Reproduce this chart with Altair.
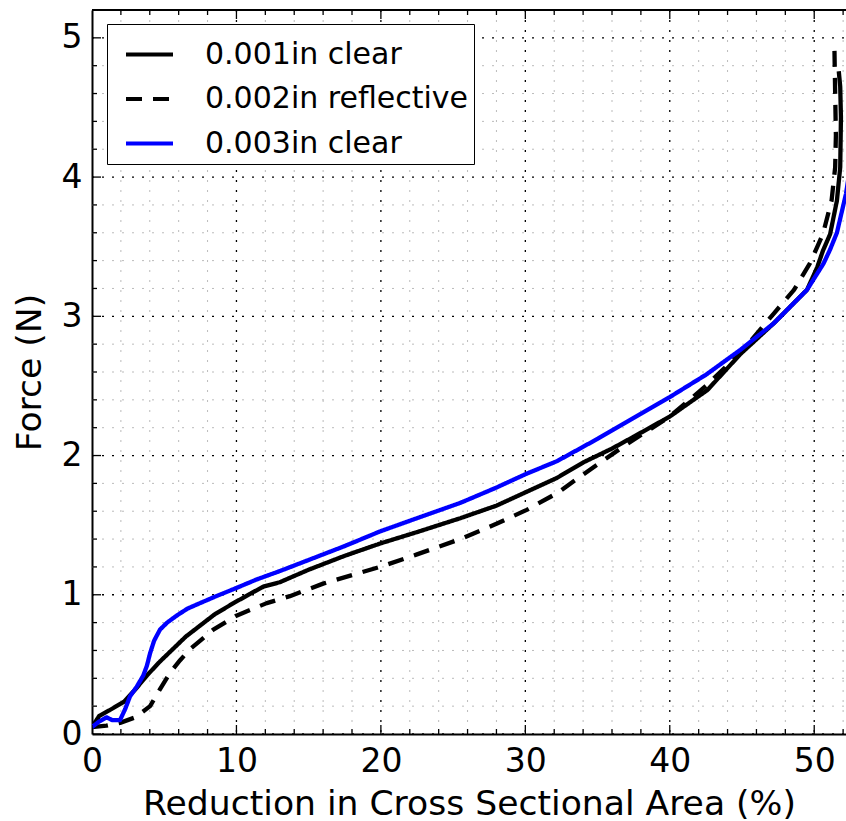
import altair as alt
import pandas as pd

# ---- data ----
series_names = ["0.001in clear", "0.002in reflective", "0.003in clear"]

black_x = [0, 0.5, 1.2, 2.2, 3.0, 3.8, 4.7, 5.6, 6.5, 7.5, 8.5, 9.8, 11.0, 11.9, 13.0,
           15.0, 17.5, 20.0, 22.5, 25.5, 28.0, 30.1, 32.2, 34.0, 36.0, 37.5, 40.0, 42.6,
           44.9, 47.2, 49.5, 50.2, 50.6, 51.1, 51.57, 51.8, 51.85, 51.8, 51.7]
black_y = [0.05, 0.13, 0.17, 0.23, 0.32, 0.42, 0.52, 0.61, 0.70, 0.78, 0.86, 0.94, 1.01,
           1.06, 1.09, 1.18, 1.28, 1.37, 1.45, 1.55, 1.64, 1.74, 1.84, 1.95, 2.05, 2.135,
           2.28, 2.47, 2.73, 2.95, 3.19, 3.35, 3.47, 3.59, 3.83, 4.07, 4.43, 4.65, 4.76]

dash_x = [0, 1.0, 1.94, 3.0, 4.02, 4.7, 5.4, 6.1, 6.79, 7.6, 8.4, 10.0, 12.1, 13.7, 16.0,
          19.94, 22.5, 25.5, 28.0, 30.1, 32.2, 34.5, 37.0, 40.0, 42.5, 45.0, 47.2, 48.6,
          49.7, 50.6, 51.2, 51.45, 51.5, 51.45, 51.4]
dash_y = [0.05, 0.06, 0.08, 0.12, 0.20, 0.32, 0.44, 0.53, 0.61, 0.68, 0.75, 0.85, 0.94,
          0.99, 1.08, 1.20, 1.29, 1.40, 1.51, 1.61, 1.73, 1.90, 2.08, 2.28, 2.50, 2.75,
          3.02, 3.19, 3.38, 3.59, 3.83, 4.07, 4.30, 4.60, 4.92]

blue_x = [0, 0.5, 1.0, 1.4, 1.94, 2.3, 2.63, 3.1, 3.55, 3.8, 4.02, 4.3, 4.71, 5.2, 5.86,
          6.6, 7.48, 8.6, 9.79, 11.4, 13.0, 15.0, 17.5, 19.94, 22.5, 25.5, 28.0, 30.1,
          32.2, 35.0, 37.5, 40.0, 42.5, 44.9, 47.2, 49.5, 50.65, 51.1, 51.57, 52.2, 52.6,
          53.0]
blue_y = [0.05, 0.09, 0.12, 0.10, 0.10, 0.18, 0.27, 0.34, 0.42, 0.49, 0.58, 0.67, 0.75,
          0.80, 0.85, 0.90, 0.94, 0.99, 1.04, 1.11, 1.17, 1.25, 1.35, 1.455, 1.55, 1.66,
          1.77, 1.87, 1.96, 2.12, 2.27, 2.42, 2.58, 2.76, 2.95, 3.19, 3.38, 3.48, 3.60,
          3.88, 4.15, 4.45]

major_x = [0, 10, 20, 30, 40, 50]
minor_x = [2, 4, 6, 8, 12, 14, 16, 18, 22, 24, 26, 28, 32, 34, 36, 38, 42, 44, 46, 48, 52]
major_y = [0, 1, 2, 3, 4, 5]
minor_y = [0.2, 0.4, 0.6, 0.8, 1.2, 1.4, 1.6, 1.8, 2.2, 2.4, 2.6, 2.8, 3.2, 3.4, 3.6, 3.8,
           4.2, 4.4, 4.6, 4.8, 5.2]

X_DOMAIN = [0, 52.2]
Y_DOMAIN = [0, 5.2]
W, H = 754, 724
FONT = "DejaVu Sans"

rows = []
for name, xs_, ys_ in [(series_names[0], black_x, black_y),
                       (series_names[1], dash_x, dash_y),
                       (series_names[2], blue_x, blue_y)]:
    for i, (a, b) in enumerate(zip(xs_, ys_)):
        rows.append({"x": a, "y": b, "series": name, "order": i})
df = pd.DataFrame(rows)

xs = alt.Scale(domain=X_DOMAIN, nice=False, zero=False)
ys = alt.Scale(domain=Y_DOMAIN, nice=False, zero=False)

df_mx = pd.DataFrame({"v": major_x})
df_nx = pd.DataFrame({"v": minor_x})
df_my = pd.DataFrame({"v": major_y})
df_ny = pd.DataFrame({"v": minor_y})

# grids
minor_grid_x = alt.Chart(df_nx).mark_rule(color="#bbbbbb", strokeWidth=1, strokeDash=[2, 8], clip=True).encode(
    x=alt.X("v:Q", scale=xs), y=alt.value(0), y2=alt.value(H))
minor_grid_y = alt.Chart(df_ny).mark_rule(color="#bbbbbb", strokeWidth=1, strokeDash=[2, 8], clip=True).encode(
    y=alt.Y("v:Q", scale=ys), x=alt.value(0), x2=alt.value(W))
major_grid_x = alt.Chart(df_mx).mark_rule(color="black", strokeWidth=1.3, strokeDash=[2, 8], clip=True).encode(
    x=alt.X("v:Q", scale=xs), y=alt.value(0), y2=alt.value(H))
major_grid_y = alt.Chart(df_my).mark_rule(color="black", strokeWidth=1.3, strokeDash=[2, 8], clip=True).encode(
    y=alt.Y("v:Q", scale=ys), x=alt.value(0), x2=alt.value(W))

# data lines
legend = alt.Legend(
    title=None, orient="none", legendX=15, legendY=14,
    symbolType="stroke", symbolSize=2209, symbolStrokeWidth=4,
    labelFontSize=30, labelFont=FONT, labelColor="black",
    strokeColor="black", fillColor="white", padding=5,
    rowPadding=3.5, symbolOffset=12, labelOffset=30, labelLimit=500,
)
lines = alt.Chart(df).mark_line(strokeWidth=4.3, clip=True, strokeJoin="round").encode(
    x=alt.X("x:Q", scale=xs, axis=alt.Axis(
        values=major_x, format="d", grid=False, ticks=False, tickSize=0, labelFontSize=33,
        labelPadding=11, labelFlush=False, labelOverlap=False, domainColor="black",
        domainWidth=2, title="Reduction in Cross Sectional Area (%)", titleFontSize=34.6,
        titleFontWeight="normal", titleBaseline="alphabetic", titleY=80, titleX=W / 2,
        labelColor="black", titleColor="black")),
    y=alt.Y("y:Q", scale=ys, axis=alt.Axis(
        values=major_y, format="d", grid=False, ticks=False, tickSize=0, labelFontSize=33,
        labelPadding=10, labelFlush=False, labelOverlap=False, domainColor="black",
        domainWidth=2, title="Force (N)", titleFontSize=34.6, titleFontWeight="normal",
        titleBaseline="alphabetic", titleX=-52, titleY=H / 2, titleAngle=270,
        labelColor="black", titleColor="black")),
    color=alt.Color("series:N", sort=series_names,
                    scale=alt.Scale(domain=series_names, range=["black", "black", "#0000ff"]),
                    legend=legend),
    strokeDash=alt.StrokeDash("series:N", sort=series_names,
                              scale=alt.Scale(domain=series_names, range=[[1, 0], [16, 11], [1, 0]]),
                              legend=legend),
    order="order:Q",
)

# inward ticks
def xticks(data, y0, y1):
    return alt.Chart(data).mark_rule(color="black", strokeWidth=1.3, clip=True).encode(
        x=alt.X("v:Q", scale=xs), y=alt.value(y0), y2=alt.value(y1))

def yticks(data, x0, x1):
    return alt.Chart(data).mark_rule(color="black", strokeWidth=1.3, clip=True).encode(
        y=alt.Y("v:Q", scale=ys), x=alt.value(x0), x2=alt.value(x1))

ticks = [
    xticks(df_mx, H, H - 9), xticks(df_nx, H, H - 5),
    xticks(df_mx, 0, 9), xticks(df_nx, 0, 5),
    yticks(df_my, 0, 9), yticks(df_ny, 0, 5),
]

top_spine = alt.Chart(df_mx).mark_rule(color="black", strokeWidth=2).encode(
    x=alt.value(0), x2=alt.value(W), y=alt.value(0))

chart = alt.layer(
    minor_grid_x, minor_grid_y, major_grid_x, major_grid_y, lines, *ticks, top_spine
).properties(
    width=W, height=H,
    autosize=alt.AutoSizeParams(type="none"),
    padding={"left": 92, "top": 10, "right": 0, "bottom": 87},
).configure_view(stroke=None).configure(font=FONT)

chart.save("out.html", embed_options={"renderer": "svg", "actions": False})
